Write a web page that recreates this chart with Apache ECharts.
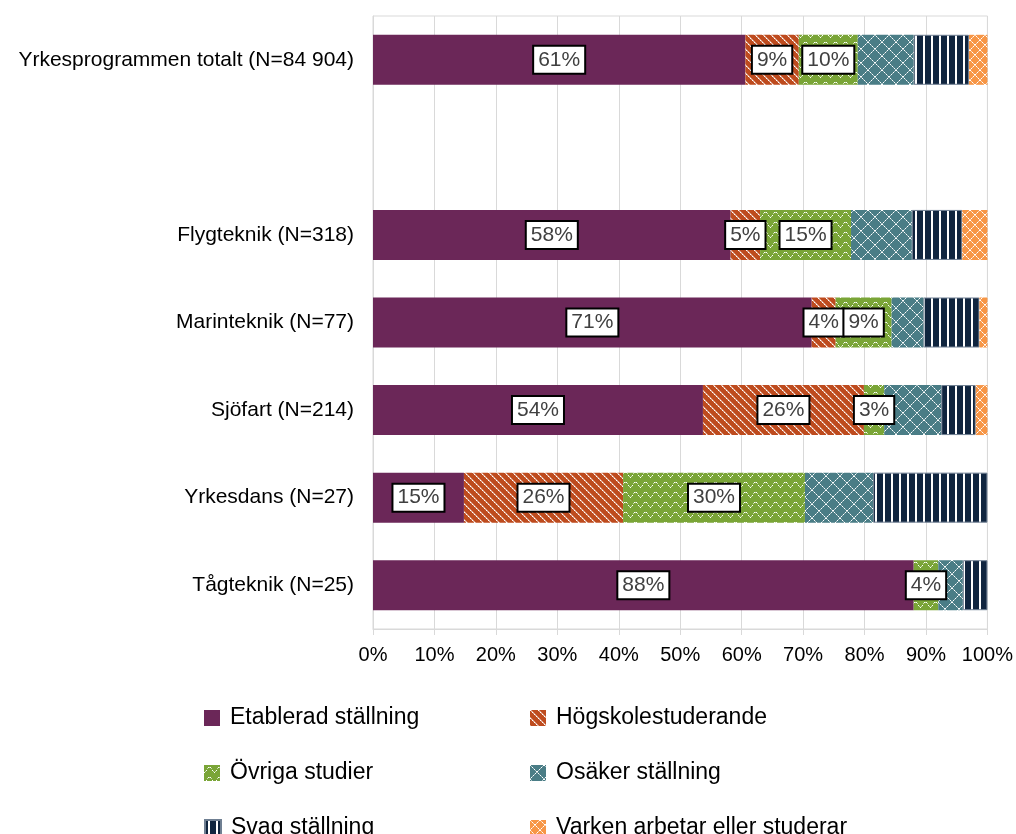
<!DOCTYPE html>
<html>
<head>
<meta charset="utf-8">
<script src="https://cdn.jsdelivr.net/npm/echarts@6/dist/echarts.min.js"></script>
<style>
  html, body { margin: 0; padding: 0; background: #fff; }
  #chart { width: 1016px; height: 834px; }
</style>
</head>
<body>
<div id="chart"></div>
<script>
var categories = ['Yrkesprogrammen totalt (N=84 904)', '', 'Flygteknik (N=318)', 'Marinteknik (N=77)',
    'Sjöfart (N=214)', 'Yrkesdans (N=27)', 'Tågteknik (N=25)'];
var seriesNames = ['Etablerad ställning', 'Högskolestuderande', 'Övriga studier',
    'Osäker ställning', 'Svag ställning', 'Varken arbetar eller studerar'];

// share in percent per row (blank row = '-')
var etablerad = [60.6, '-', 58.2, 71.4, 53.7, 14.8, 88.0];
var hogskole = [8.7, '-', 4.8, 3.9, 26.2, 25.9, 0];
var ovriga = [9.6, '-', 14.8, 9.1, 3.3, 29.6, 4.0];
var osaker = [9.1, '-', 9.9, 5.2, 9.3, 11.1, 4.0];
var svag = [9.0, '-', 8.2, 9.1, 5.6, 18.6, 4.0];
var varken = [3.0, '-', 4.1, 1.3, 1.9, 0, 0];
var xTicks = [0, 10, 20, 30, 40, 50, 60, 70, 80, 90, 100];

var FONT = "'Liberation Sans', Arial, sans-serif";

function tile(bg, w, h, draw) {
    var c = document.createElement('canvas');
    c.width = w; c.height = h;
    var ctx = c.getContext('2d');
    ctx.fillStyle = bg;
    ctx.fillRect(0, 0, w, h);
    draw(ctx, w, h);
    return { image: c, repeat: 'repeat' };
}
function dot(ctx, x, y, a) {
    ctx.fillStyle = 'rgba(255,255,255,' + a + ')';
    ctx.fillRect(x, y, 1, 1);
}

var pHog = tile('#BE4B1E', 8, 8, function (ctx, w) {
    for (var i = 0; i < w; i++) {
        dot(ctx, i, i, i % 2 ? 0.6 : 1);
        dot(ctx, (i + 1) % w, i, 0.45);
    }
});
var pOvr = tile('#7AA537', 10, 10, function (ctx, w) {
    for (var x = 0; x < w; x++) {
        var y = Math.round(4 + 2.5 * Math.cos(x / w * 2 * Math.PI));
        dot(ctx, x, y, x % 2 ? 0.6 : 1);
    }
});
var pOsa = tile('#4A7D86', 14, 14, function (ctx, w) {
    for (var i = 0; i < w; i++) {
        dot(ctx, i, i, i % 2 ? 0.55 : 1);
        dot(ctx, w - 1 - i, i, i % 2 ? 0.55 : 1);
    }
});
var pSvag = tile('#10253F', 8, 8, function (ctx, w, h) {
    ctx.fillStyle = '#fff';
    ctx.fillRect(3, 0, 2, h);
});
var pVar = tile('#F79646', 10, 10, function (ctx, w) {
    for (var i = 0; i < w; i++) {
        dot(ctx, i, i, i % 2 ? 0.6 : 1);
        dot(ctx, w - 1 - i, i, i % 2 ? 0.6 : 1);
    }
});

var colors = ['#6B2758', pHog, pOvr, pOsa, pSvag, pVar];
var values = [etablerad, hogskole, ovriga, osaker, svag, varken];

var labelStyle = {
    show: true,
    position: 'inside',
    fontFamily: FONT,
    fontSize: 21,
    color: '#404040',
    backgroundColor: '#fff',
    borderColor: '#000',
    borderWidth: 2,
    padding: [3, 4, 2, 4],
    formatter: function (p) {
        return p.value > 0 ? Math.round(p.value) + '%' : '';
    }
};

var series = values.map(function (v, i) {
    return {
        name: seriesNames[i],
        type: 'bar',
        stack: 'total',
        barWidth: 50,
        data: v,
        itemStyle: i === 4 ? { color: colors[i], borderColor: '#6F7F92', borderWidth: 1 } : { color: colors[i] },
        label: i < 3 ? labelStyle : { show: false },
        emphasis: { disabled: true }
    };
});

// one legend per item: two columns, three rows
var legendPos = [[199, 699], [525, 699], [199, 754], [525, 754], [199, 809], [525, 809]];
var legends = seriesNames.map(function (name, i) {
    return {
        left: legendPos[i][0], top: legendPos[i][1],
        itemWidth: 16, itemHeight: 16, icon: 'rect', selectedMode: false,
        textStyle: { fontFamily: FONT, fontSize: 23, color: '#000', lineHeight: 24, padding: [4, 0, 0, 5] },
        data: [name]
    };
});

var option = {
    animation: false,
    grid: { left: 373, right: 27, top: 16, bottom: 205, show: true, borderColor: '#D9D9D9', borderWidth: 1 },
    xAxis: {
        type: 'value',
        min: 0, max: 100, interval: 10,
        axisLine: { show: true, lineStyle: { color: '#D9D9D9' } },
        axisTick: { show: true, length: 6, lineStyle: { color: '#D9D9D9' } },
        splitLine: { show: true, lineStyle: { color: '#D9D9D9', width: 1 } },
        axisLabel: {
            fontFamily: FONT, fontSize: 20, color: '#000', margin: 16,
            formatter: function (v) { return xTicks.indexOf(v) >= 0 ? v + '%' : ''; }
        }
    },
    yAxis: {
        type: 'category',
        inverse: true,
        data: categories,
        axisLine: { show: true, lineStyle: { color: '#D9D9D9' } },
        axisTick: { show: false },
        axisLabel: { fontFamily: FONT, fontSize: 21, color: '#000', margin: 19 }
    },
    legend: legends,
    series: series
};

var myChart = echarts.init(document.getElementById('chart'));
myChart.setOption(option, true);
</script>
</body>
</html>
